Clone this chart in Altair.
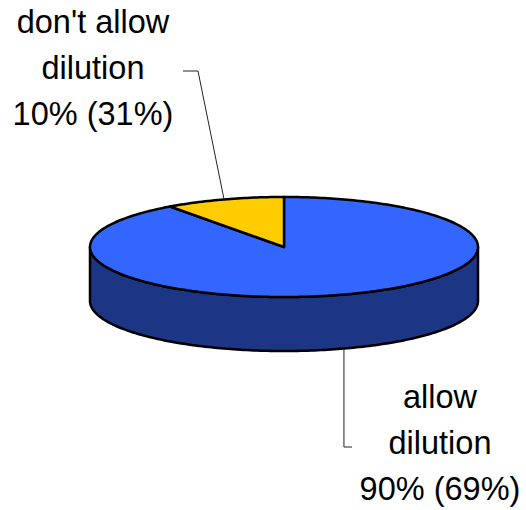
import math
import altair as alt

# ---- data ----
categories = ["allow dilution", "don't allow dilution"]
label_lines = [["allow", "dilution"], ["don't allow", "dilution"]]
shares = [90, 10]            # percent shown first
other_shares = [69, 31]      # percent shown in parentheses
top_colors = ["#3366FF", "#FFCC00"]
side_color = "#1C3584"

# ---- layout (pixels) ----
CX, CY, RX, RY, DEPTH = 284, 247, 194, 50, 54
label_pos = {"allow dilution": (440, 408), "don't allow dilution": (93, 33)}
elbows = {"allow dilution": [("anchor_x", 447), (352, 447)],
          "don't allow dilution": [(198, 71), (183, 71)]}


def pt(phi_deg, dy=0.0):
    t = math.radians(phi_deg)
    return [CX + RX * math.sin(t), CY - RY * math.cos(t) + dy]


def arc(a0, a1, dy=0.0, n=None):
    n = n or max(2, int(abs(a1 - a0)) + 1)
    return [pt(a0 + (a1 - a0) * i / (n - 1), dy) for i in range(n)]


total = sum(shares)
starts, ends, acc = [], [], 0.0
for s in shares:
    starts.append(acc / total * 360)
    acc += s
    ends.append(acc / total * 360)

# side wall (front half, visible)
side_ring = arc(90, 270) + arc(270, 90, DEPTH)
side_ring.append(side_ring[0])
side_feat = [{"type": "Feature", "properties": {"name": "side"},
              "geometry": {"type": "Polygon", "coordinates": [side_ring]}}]

top_feats = []
for c, a0, a1 in zip(categories, starts, ends):
    ring = [[CX, CY]] + arc(a0, a1) + [[CX, CY]]
    top_feats.append({"type": "Feature", "properties": {"name": c},
                      "geometry": {"type": "Polygon", "coordinates": [ring]}})

leader_feats, text_rows = [], []
for c, a0, a1, s, o, lines in zip(categories, starts, ends, shares, other_shares, label_lines):
    mid = (a0 + a1) / 2
    front = 90 < (mid % 360) < 270
    anchor = pt(mid, DEPTH if front else 0)
    coords = [anchor]
    for ex, ey in elbows[c]:
        coords.append([anchor[0] if ex == "anchor_x" else ex, ey])
    leader_feats.append({"type": "Feature", "properties": {"name": c},
                         "geometry": {"type": "LineString", "coordinates": coords}})
    lx, ly = label_pos[c]
    text_rows.append({"x": lx, "y": ly,
                      "t": "\n".join(lines + [f"{s}% ({o}%)"])})

proj = dict(type="identity", scale=1, translate=[0, 0])

side = alt.Chart(alt.Data(values=side_feat)).mark_geoshape(
    fill=side_color, stroke="black", strokeWidth=2.5, strokeJoin="round"
).project(**proj)

top = alt.Chart(alt.Data(values=top_feats)).mark_geoshape(
    stroke="black", strokeWidth=2.5, strokeJoin="round"
).encode(
    fill=alt.Fill("properties.name:N",
                  scale=alt.Scale(domain=categories, range=top_colors),
                  legend=None)
).project(**proj)

leaders = alt.Chart(alt.Data(values=leader_feats)).mark_geoshape(
    filled=False, stroke="#222222", strokeWidth=1
).project(**proj)

labels = alt.Chart(alt.Data(values=text_rows)).mark_text(
    font="Liberation Sans", fontSize=32.5, align="center", baseline="alphabetic",
    lineBreak="\n", lineHeight=46, color="black"
).encode(
    longitude="x:Q", latitude="y:Q", text="t:N"
).project(**proj)

chart = alt.layer(side, top, leaders, labels).properties(
    width=526, height=510, padding=0, autosize=alt.AutoSizeParams(type="none"),
    background="white"
).configure_view(stroke=None)

chart.save("out.html", embed_options={"renderer": "svg", "actions": False})
